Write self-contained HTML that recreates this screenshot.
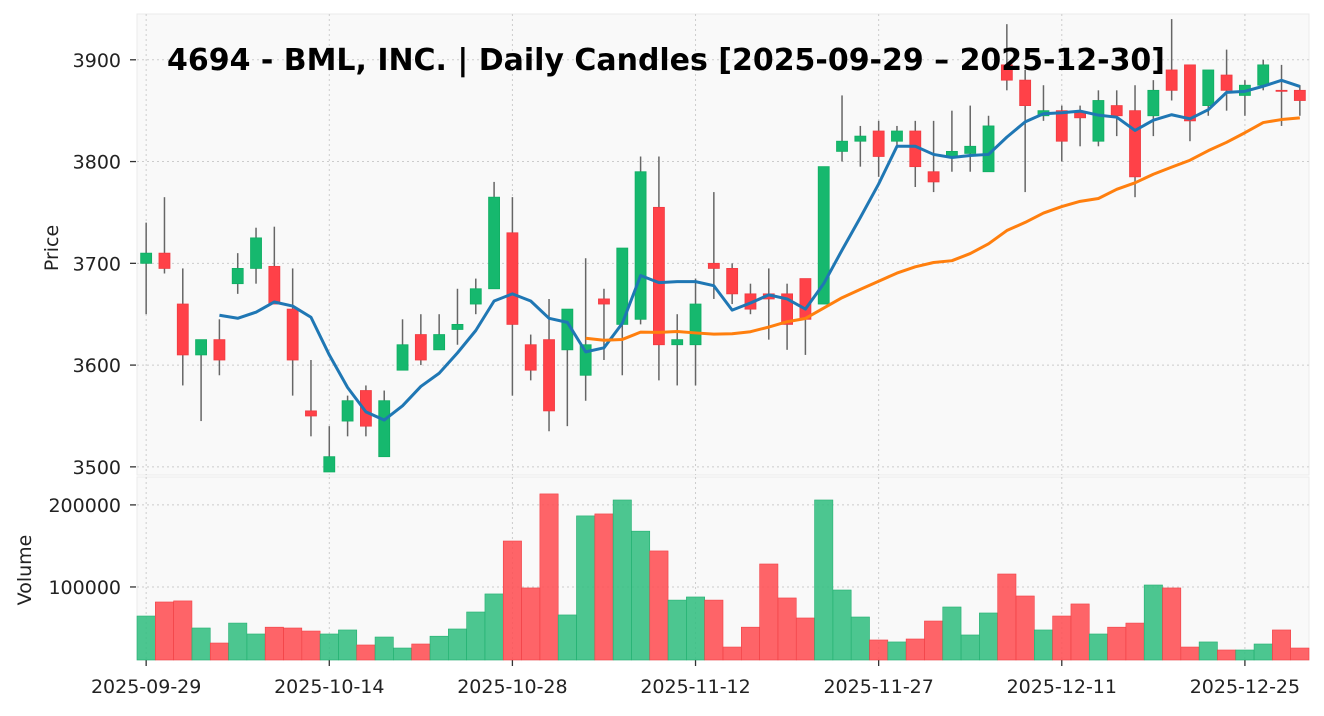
<!DOCTYPE html>
<html><head><meta charset="utf-8"><style>
body{margin:0;background:#fff;font-family:"Liberation Sans","DejaVu Sans",sans-serif}
svg text{font-family:"DejaVu Sans","Liberation Sans",sans-serif}
</style></head><body>
<svg id="chart" width="1324" height="711" viewBox="0 0 1324 711" xmlns="http://www.w3.org/2000/svg">
<rect width="1324" height="711" fill="#fff"/>
<g id="price-panel"></g>
<g id="volume-panel"></g>
<text x="167" y="70" font-size="30" font-weight="bold" fill="#000" textLength="998" lengthAdjust="spacingAndGlyphs">4694 - BML, INC. | Daily Candles [2025-09-29 – 2025-12-30]</text>
<text transform="translate(58,248) rotate(-90)" font-size="19" text-anchor="middle" fill="#222">Price</text>
<text transform="translate(31,570) rotate(-90)" font-size="19" text-anchor="middle" fill="#222">Volume</text>
</svg>
<script>
const opens=[3700,3710,3660,3610,3625,3680,3695,3697,3655,3555,3495,3545,3575,3510,3595,3630,3615,3635,3660,3675,3730,3620,3625,3615,3590,3665,3640,3645,3755,3620,3620,3700,3695,3670,3670,3670,3685,3660,3810,3820,3830,3820,3830,3790,3805,3808,3790,3895,3880,3845,3850,3848,3820,3855,3850,3845,3890,3895,3855,3885,3865,3875,3870,3870];
const highs=[3740,3765,3695,3625,3645,3710,3735,3736,3695,3605,3540,3570,3580,3575,3645,3650,3650,3675,3685,3780,3765,3630,3665,3655,3705,3675,3715,3805,3805,3650,3685,3770,3700,3680,3695,3680,3685,3795,3865,3835,3840,3835,3840,3840,3850,3855,3845,3935,3890,3875,3855,3855,3870,3870,3875,3880,3940,3895,3890,3910,3880,3900,3895,3875];
const lows=[3650,3690,3580,3545,3590,3670,3680,3660,3570,3530,3495,3530,3530,3510,3595,3600,3615,3620,3650,3675,3570,3585,3535,3540,3565,3605,3590,3640,3585,3580,3580,3665,3660,3650,3625,3615,3610,3660,3800,3795,3785,3815,3775,3770,3790,3790,3790,3870,3770,3840,3800,3815,3815,3825,3765,3825,3860,3820,3845,3850,3845,3870,3835,3845];
const closes=[3710,3695,3610,3625,3605,3695,3725,3660,3605,3550,3510,3565,3540,3565,3620,3605,3630,3640,3675,3765,3640,3595,3555,3655,3620,3660,3715,3790,3620,3625,3660,3695,3670,3655,3665,3640,3645,3795,3820,3825,3805,3830,3795,3780,3810,3815,3835,3880,3855,3850,3820,3843,3860,3845,3785,3870,3870,3840,3890,3870,3875,3895,3869,3860];
const volumes=[64600,81700,83000,50000,31700,56000,42700,51000,50000,46300,42700,47600,29300,39000,25600,30500,40000,48800,69500,91500,156000,98800,213400,65900,186600,189000,206000,168000,143900,84000,87800,84000,26800,51000,128000,86600,62200,206000,96300,63400,35400,33000,36600,58500,75600,41500,68300,115800,89000,47600,64600,79300,42700,51000,56000,102400,98800,26800,33000,23200,23200,30500,47600,25600];
const dateLabels=["2025-09-29","2025-10-14","2025-10-28","2025-11-12","2025-11-27","2025-12-11","2025-12-25"];
const dateIdx=[0,10,20,30,40,50,60];
const priceTicks=[3500,3600,3700,3800,3900];
const volTicks=[100000,200000];

const NS="http://www.w3.org/2000/svg";
const L=137,R=1309,PT=14,PB=475,VT=477,VB=660;
const n=opens.length;
const xs=i=>L+(i+0.5)*(R-L)/n;
const yP=p=>PT+(3945-p)/(3945-3492)*(PB-PT);
const yV=v=>VB-(v-11000)/(234000-11000)*(VB-VT);
function mk(tag,attrs,parent){const e=document.createElementNS(NS,tag);for(const k in attrs)e.setAttribute(k,attrs[k]);parent.appendChild(e);return e;}
const pp=document.getElementById('price-panel'),vp=document.getElementById('volume-panel');
let bg=mk('rect',{x:L,y:PT,width:R-L,height:PB-PT,fill:'#f9f9f9',stroke:'#ebebeb'},pp);

let bg2=mk('rect',{x:L,y:VT,width:R-L,height:VB-VT,fill:'#f9f9f9',stroke:'#ebebeb'},vp);

dateIdx.forEach((d,k)=>{const x=xs(d);
 let g=mk('line',{x1:x,x2:x,y1:PT,y2:PB,stroke:'#ccc','stroke-dasharray':'2,3'},pp);
 
 let g2=mk('line',{x1:x,x2:x,y1:VT,y2:VB,stroke:'#ccc','stroke-dasharray':'2,3'},vp);
 
 let tk=mk('line',{x1:x,x2:x,y1:VB,y2:VB+6,stroke:'#333','stroke-width':1.3},vp);
 
 let t=mk('text',{x:x,y:VB+33,'font-size':19,'text-anchor':'middle',fill:'#222'},vp);t.textContent=dateLabels[k];
 
});
priceTicks.forEach(p=>{const y=yP(p);
 let g=mk('line',{x1:L,x2:R,y1:y,y2:y,stroke:'#ccc','stroke-dasharray':'2,3'},pp);
 
 let tk=mk('line',{x1:L-7,x2:L-1,y1:y,y2:y,stroke:'#333','stroke-width':1.3},pp);
 
 let t=mk('text',{x:L-16,y:y+7,'font-size':19,'text-anchor':'end',fill:'#222'},pp);t.textContent=p;
 
});
volTicks.forEach(v=>{const y=yV(v);
 let g=mk('line',{x1:L,x2:R,y1:y,y2:y,stroke:'#ccc','stroke-dasharray':'2,3'},vp);
 
 let tk=mk('line',{x1:L-7,x2:L-1,y1:y,y2:y,stroke:'#333','stroke-width':1.3},vp);
 
 let t=mk('text',{x:L-16,y:y+7,'font-size':19,'text-anchor':'end',fill:'#222'},vp);t.textContent=v;
 
});
const w=(R-L)/n;
for(let i=0;i<n;i++){const up=closes[i]>=opens[i];
 const y=yV(volumes[i]);
 let b=mk('rect',{x:xs(i)-w/2,y:y,width:w,height:VB-y,fill:up?'#2ebd7e':'#ff4a4f','fill-opacity':0.85,stroke:up?'#22b070':'#f04045','stroke-width':0.6},vp);
 
}
for(let i=0;i<n;i++){const up=closes[i]>=opens[i];const x=xs(i);
 let wk=mk('line',{x1:x,x2:x,y1:yP(highs[i]),y2:yP(lows[i]),stroke:'#666','stroke-width':1.5},pp);
 
 const t=yP(Math.max(opens[i],closes[i])),b=yP(Math.min(opens[i],closes[i]));
 let r=mk('rect',{x:x-5.5,y:t,width:11,height:Math.max(b-t,1),fill:up?'#16b86e':'#ff4148',stroke:up?'#0fae62':'#f03a40','stroke-width':0.8},pp);
 
}
function ma(k){const pts=[];for(let i=k-1;i<n;i++){let s=0;for(let j=i-k+1;j<=i;j++)s+=closes[j];pts.push(xs(i)+','+yP(s/k));}return pts.join(' ');}
let m5=mk('polyline',{points:ma(5),fill:'none',stroke:'#1f77b4','stroke-width':3,'stroke-linejoin':'round'},pp);

let m25=mk('polyline',{points:ma(25),fill:'none',stroke:'#ff7f0e','stroke-width':3,'stroke-linejoin':'round'},pp);

</script>
</body></html>
